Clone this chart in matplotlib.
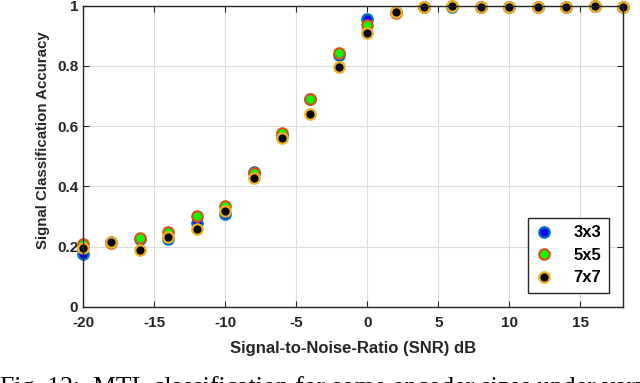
import matplotlib
matplotlib.use("Agg")
import matplotlib.pyplot as plt

snr = [-20, -18, -16, -14, -12, -10, -8, -6, -4, -2, 0, 2, 4, 6, 8, 10, 12, 14, 16, 18]
acc_3x3 = [0.175, 0.214, 0.225, 0.225, 0.277, 0.307, 0.446, 0.572, 0.690, 0.838,
           0.956, 0.978, 0.995, 0.996, 0.997, 0.997, 0.997, 0.997, 0.998, 0.997]
acc_5x5 = [0.210, 0.213, 0.227, 0.247, 0.302, 0.335, 0.443, 0.576, 0.690, 0.842,
           0.936, 0.975, 0.996, 0.998, 0.997, 0.997, 0.996, 0.997, 0.998, 0.997]
acc_7x7 = [0.195, 0.214, 0.189, 0.230, 0.258, 0.319, 0.426, 0.560, 0.641, 0.795,
           0.911, 0.980, 0.997, 1.000, 0.997, 0.997, 0.996, 0.997, 0.998, 0.996]
labels = ["3x3", "5x5", "7x7"]
caption = "Fig. 12:  MTL classification for some encoder sizes under varying noise"

plt.rcParams['font.family'] = ['Liberation Sans', 'DejaVu Sans']
plt.rcParams['axes.unicode_minus'] = False

fig = plt.figure(figsize=(6.4, 3.83), dpi=100)
ax = fig.add_axes([0.1297, 0.1992, 0.8437, 0.7858])

ax.plot(snr, acc_3x3, 'o', ms=7.5, mfc=(0, 0, 1), mec='#0072BD', mew=1.6, label=labels[0], clip_on=False)
ax.plot(snr, acc_5x5, 'o', ms=7.5, mfc=(0, 1, 0), mec='#D95319', mew=1.6, label=labels[1], clip_on=False)
ax.plot(snr, acc_7x7, 'o', ms=7.5, mfc='k', mec='#EDB120', mew=1.6, label=labels[2], clip_on=False)

ax.set_xlim(-20, 18)
ax.set_ylim(0, 1)
ax.set_xticks([-20, -15, -10, -5, 0, 5, 10, 15])
ax.set_yticks([0, 0.2, 0.4, 0.6, 0.8, 1])
ax.set_yticklabels(["0", "0.2", "0.4", "0.6", "0.8", "1"])
ax.grid(True, color='#dcdcdc', linewidth=0.8)
ax.set_axisbelow(True)
ax.tick_params(direction='in', length=4, top=True, right=True, labelsize=11, colors='#262626')
ax.tick_params(axis='x', pad=7)
for lab in ax.get_xticklabels() + ax.get_yticklabels():
    lab.set_fontweight('bold')
for s in ax.spines.values():
    s.set_color('#262626')
    s.set_linewidth(1.0)

ax.set_xlabel("Signal-to-Noise-Ratio (SNR) dB", fontsize=12, fontweight='bold', color='#262626')
ax.set_ylabel("Signal Classification Accuracy", fontsize=10.8, fontweight='bold', color='#262626')
ax.xaxis.set_label_coords(0.5, -0.115)
ax.yaxis.set_label_coords(-0.062, 0.555)

leg = ax.legend(loc='lower right', bbox_to_anchor=(0.974, 0.046), prop={'weight': 'bold', 'size': 12},
                fancybox=False, framealpha=1, edgecolor='#262626', handlelength=1.0,
                handletextpad=1.3, borderpad=0.45, borderaxespad=0, labelspacing=0.45)
leg.get_frame().set_linewidth(1.0)

fig.text(0.0, -0.03, caption, fontsize=18.5, family='Liberation Serif', va='baseline', ha='left')

fig.savefig("out.png", dpi=100)
